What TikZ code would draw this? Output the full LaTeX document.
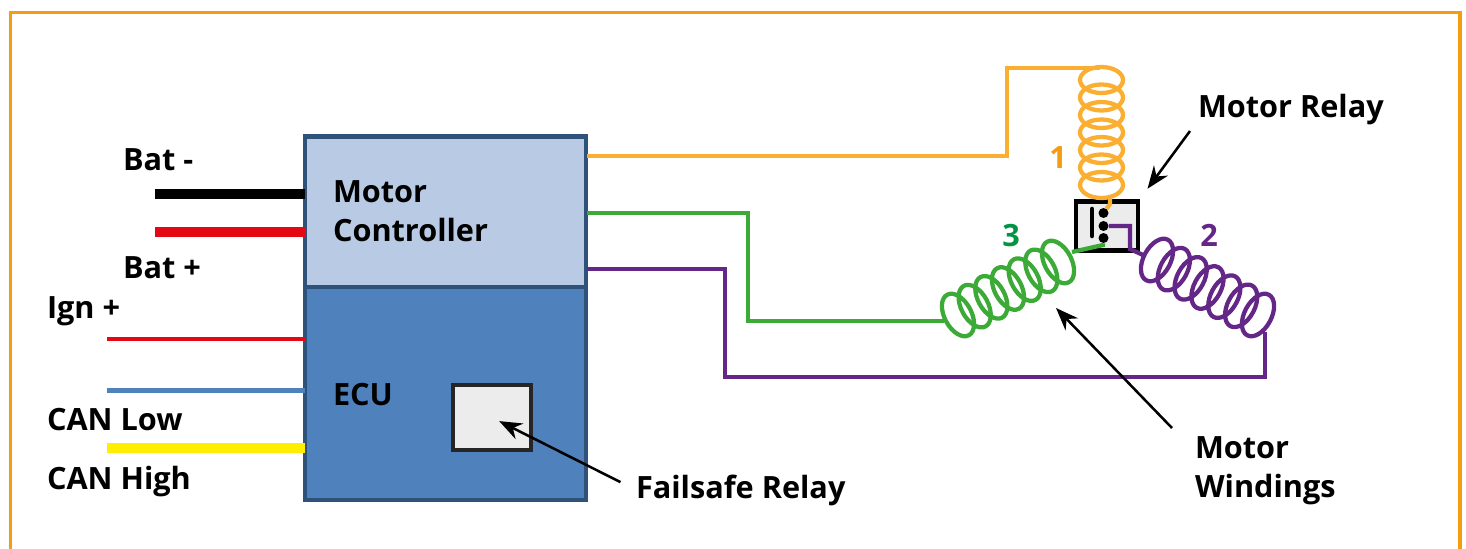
\documentclass[tikz,border=0pt]{standalone}
\usepackage{fontspec}
\setmainfont{Open Sans}
\usetikzlibrary{arrows.meta,positioning,calc}
\definecolor{framegold}{RGB}{244, 156, 18}
\definecolor{boxedge}{RGB}{47, 82, 122}
\definecolor{ctrlblue}{RGB}{185, 203, 228}
\definecolor{ecublue}{RGB}{79, 129, 189}
\definecolor{relaygray}{RGB}{236, 236, 236}
\definecolor{wireorange}{RGB}{250, 175, 50}
\definecolor{wiregreen}{RGB}{60, 170, 55}
\definecolor{wirepurple}{RGB}{100, 38, 135}
\definecolor{wirered}{RGB}{228, 8, 20}
\definecolor{wireyellow}{RGB}{255, 238, 0}
\definecolor{digitgreen}{RGB}{0, 148, 68}
\def\pcoil [#1]#2#3#4#5#6{
	% one winding: seven loops from #2 to #3, turned by #4, radii #5 and #6
	\foreach \loopidx in {0,...,6}
		\draw[#1, shift={($(#2)!\loopidx/6!(#3)$)}, rotate=#4] (0,0) ellipse (#5 and #6);
}
\begin{document}
\begin{tikzpicture}[x=0.75pt, y=-0.75pt, >=Stealth,
		label/.style={inner sep=0pt, outer sep=0pt, anchor=base west, font=\fontsize{23}{29.25}\selectfont\bfseries, align=left},
		digit/.style={inner sep=0pt, font=\fontsize{23}{29.25}\selectfont\bfseries},
		unit/.style={draw=boxedge, line width=3.4pt, inner sep=0pt, outer sep=0pt, minimum width=210.75pt},
		relay/.style={draw=#1, fill=relaygray, inner sep=0pt, outer sep=0pt},
		contact/.style={circle, fill=black, inner sep=0pt, minimum size=7.5pt},
		wireLine/.style={line width=3.2pt},
		feedLine/.style={line width=#1, line cap=butt},
		pointerLine/.style={line width=1.9pt, ->, black, >={Stealth[length=17pt,width=13pt]}},
		]
		
		\useasboundingbox (0,0) rectangle (1466,549);
		\draw[framegold, line width=2.3pt] (10.5,549) -- (10.5,12.5) -- (1460,12.5) -- (1460,549);
		
		\node[unit, fill=ctrlblue, minimum height=112.9pt] (mc) at (445.5,211.75) {};
		\node[unit, fill=ecublue, minimum height=159.75pt, below=0pt of mc] (ecu) {};
		\node[relay=black!85, line width=3.3pt, minimum width=58.5pt, minimum height=48.75pt] (failsafe) at (492,417.5) {};
		\node[relay=black, line width=3.6pt, minimum width=46.5pt, minimum height=36.5pt] (motorrelay) at (1107,226) {};
		
		\node[contact] (c1) at (1103.5,213) {};
		\node[contact] (c2) at (1103.5,226) {};
		\node[contact] (c3) at (1103.5,238) {};
		\coordinate (bartop) at (1092,209);
		\coordinate (barbot) at (1092,236);
		\draw[line width=3.4pt, line cap=round] (bartop) -- (barbot);
		
		% supply and bus feeds on the left
		\coordinate (batneg) at (155,194);
		\coordinate (batpos) at (155,232);
		\coordinate (ign) at (107,339);
		\coordinate (canlow) at (107,390.5);
		\coordinate (canhigh) at (107,448);
		\draw[feedLine=7pt, black] (batneg) -- (batneg -| mc.west);
		\draw[feedLine=7pt, wirered] (batpos) -- (batpos -| mc.west);
		\draw[feedLine=3.7pt, wirered] (ign) -- (ign -| ecu.west);
		\draw[feedLine=3.7pt, ecublue] (canlow) -- (canlow -| ecu.west);
		\draw[feedLine=7pt, wireyellow] (canhigh) -- (canhigh -| ecu.west);
		
		% windings
		\pcoil[wireLine, wireorange]{1101.5,80}{1101.5,185}{0}{21.5}{13}
		\pcoil[wireLine, wiregreen]{958,315}{1058,262}{28}{13.5}{23}
		\pcoil[wireLine, wirepurple]{1157,260}{1258,315}{-28}{13.5}{23}
		
		\coordinate (orangeout) at (587,156);
		\coordinate (orangein) at (1100,68);
		\coordinate (greenout) at (587,213);
		\coordinate (greenin) at (944,321);
		\coordinate (purpleout) at (587,269);
		\coordinate (purplein) at (1265,332);
		\coordinate (orangebot) at (1110,196);
		\coordinate (greentop) at (1072,252);
		\coordinate (purpletop) at (1143,255);
		
		\draw[wireLine, wireorange] (orangeout) -- (1007,156) -- (1007,68) -- (orangein);
		\draw[wireLine, wiregreen] (greenout) -- (748,213) -- (748,321) -- (greenin);
		\draw[wireLine, wirepurple] (purpleout) -- (725,269) -- (725,377) -- (1265,377) -- (purplein);
		\draw[wireLine, wireorange] (orangebot) -- (1110,204) -- (c1);
		\draw[wireLine, wiregreen] (c3) -- (1103,245) -- (greentop);
		\draw[wireLine, wirepurple] (c2) -- (1130,226) -- (1130,249) -- (purpletop);
		
		\node[label] (batneglabel) at (123,171) {Bat -};
		\node[label] (batposlabel) at (123,278) {Bat +};
		\node[label] (ignlabel) at (47,318) {Ign +};
		\node[label] (canlowlabel) at (47,430) {CAN Low};
		\node[label] (canhighlabel) at (47,489) {CAN High};
		\node[label] (mclabel) at (333,202) {Motor};
		\node[label] (mclabelb) at (333,241) {Controller};
		\node[label] (eculabel) at (333,405) {ECU};
		\node[label] (failsafelabel) at (636,498) {Failsafe Relay};
		\node[label] (relaylabel) at (1198,118) {Motor Relay};
		\node[label] (windlabel) at (1195,458) {Motor};
		\node[label] (windlabelb) at (1195,497) {Windings};
		
		\node[digit, text=framegold] (one) at (1058,158) {1};
		\node[digit, text=wirepurple] (two) at (1209,235) {2};
		\node[digit, text=digitgreen] (three) at (1011,236) {3};
		
		\coordinate (relaytail) at (1190,131);
		\coordinate (windtail) at (1172,428);
		\coordinate (windhead) at (1056,308);
		\draw[pointerLine, shorten >=12pt] (relaytail) -- (motorrelay.north east);
		\draw[pointerLine] (windtail) -- (windhead);
		\draw[pointerLine, shorten <=13pt, shorten >=6pt] (failsafelabel.west) -- (failsafe.center);
		
\end{tikzpicture}
\end{document}
